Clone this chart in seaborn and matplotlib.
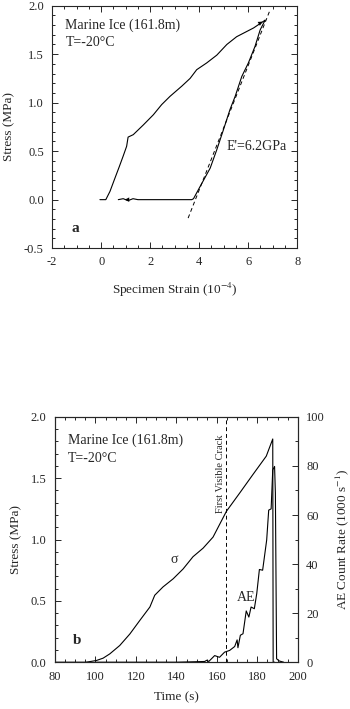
# Marine ice: stress-strain loop (a) and stress / AE count rate vs time (b)

import pandas as pd
import matplotlib
matplotlib.use('Agg')
import matplotlib.pyplot as plt
from matplotlib.ticker import MultipleLocator
import seaborn as sns

# (a) loading branch
load_strain = [-0.05, 0.19, 0.36, 0.56, 0.74, 0.90, 1.04, 1.10, 1.31, 1.72, 2.13, 2.47,
               2.81, 3.29, 3.63, 3.90, 4.31, 4.72, 5.13, 5.53, 6.22, 6.69]
load_stress = [0.0, 0.0, 0.085, 0.22, 0.34, 0.45, 0.55, 0.645, 0.67, 0.77, 0.875, 0.98,
               1.065, 1.17, 1.25, 1.34, 1.41, 1.49, 1.60, 1.68, 1.77, 1.85]
# (a) unloading branch and return at zero stress
unload_strain = [6.69, 6.49, 6.28, 6.01, 5.74, 5.47, 5.26, 4.99, 4.72, 4.45, 4.04, 3.77,
                 3.70, 2.50, 1.50, 1.30, 1.10, 0.90, 0.70]
unload_stress = [1.85, 1.75, 1.58, 1.41, 1.27, 1.065, 0.93, 0.72, 0.515, 0.325, 0.136, 0.01,
                 0.0, 0.0, 0.0, 0.01, -0.01, 0.01, 0.0]
# (a) elastic modulus fit line
fit_strain = [3.55, 6.87]
fit_stress = [-0.19, 1.94]

# (b) stress vs time
sig_time = [80, 95, 97.3, 100.5, 103.8, 107.1, 112, 117, 121.9, 126.9, 129.3, 133.4, 138.4,
            143.3, 148.2, 153.2, 158.1, 164.7, 171.3, 177.8, 184.4, 187.6, 187.8, 188.5]
sig_stress = [0.0, 0.0, 0.005, 0.014, 0.033, 0.068, 0.136, 0.23, 0.34, 0.45, 0.546, 0.614, 0.68,
              0.76, 0.86, 0.93, 1.02, 1.23, 1.38, 1.53, 1.68, 1.82, 0.0, 0.0]
# (b) AE count rate vs time (1000 s^-1)
ae_time = [100, 140, 150, 154, 155, 156, 158.9, 161.3, 163.8, 166.3, 168.8, 170, 170.4, 171.6,
           172.9, 174.5, 175.8, 176.9, 178.5, 179.7, 181, 182.6, 184.6, 185.6, 186.8, 187.6,
           188.5, 188.9, 189.5, 190.8, 193]
ae_rate = [0.0, 0.0, 0.2, 0.3, 0.8, 0.3, 2.7, 2.0, 4.1, 4.8, 6.4, 9.1, 5.9, 11.0,
           11.6, 20.9, 18.4, 22.5, 21.8, 28.0, 37.8, 37.5, 49.8, 62.0, 62.5, 78.4,
           79.8, 69.0, 1.4, 0.5, 0.0]
crack_time = 164.3

sns.set_style('ticks')
plt.rcParams['font.family'] = ['Liberation Serif', 'DejaVu Serif']
plt.rcParams['mathtext.fontset'] = 'stix'
plt.rcParams['xtick.direction'] = 'in'
plt.rcParams['ytick.direction'] = 'in'

fig = plt.figure(figsize=(3.5, 7.09), dpi=100)
ax1 = fig.add_axes([0.149, 0.650, 0.700, 0.342])
ax2 = fig.add_axes([0.157, 0.066, 0.694, 0.346])

lw = 0.8
tick_fs = 9
lab_fs = 9.5
txt_fs = 10

# ---- panel a
df_load = pd.DataFrame({'strain': load_strain, 'stress': load_stress})
df_unload = pd.DataFrame({'strain': unload_strain, 'stress': unload_stress})
sns.lineplot(data=df_load, x='strain', y='stress', sort=False, color='black', lw=lw, ax=ax1)
sns.lineplot(data=df_unload, x='strain', y='stress', sort=False, color='black', lw=lw, ax=ax1)
ax1.plot(fit_strain, fit_stress, color='black', lw=0.7, ls=(0, (4, 3)))
ax1.annotate('', xy=(load_strain[-1], load_stress[-1]), xytext=(load_strain[-3], load_stress[-3]),
             arrowprops=dict(arrowstyle='-|>', color='black', lw=0.01, mutation_scale=8))
ax1.annotate('', xy=(0.85, 0.0), xytext=(1.6, 0.0),
             arrowprops=dict(arrowstyle='-|>', color='black', lw=0.01, mutation_scale=8))

ax1.set_xlim(-2, 8)
ax1.set_ylim(-0.5, 2.0)
ax1.xaxis.set_major_locator(MultipleLocator(2))
ax1.xaxis.set_minor_locator(MultipleLocator(0.5))
ax1.yaxis.set_major_locator(MultipleLocator(0.5))
ax1.yaxis.set_minor_locator(MultipleLocator(0.1))
ax1.xaxis.set_major_formatter(plt.FuncFormatter(lambda v, p: f'{v:g}'))
ax1.yaxis.set_major_formatter(plt.FuncFormatter(lambda v, p: f'{v:.1f}'))
ax1.set_xlabel('Specimen Strain (10$^{-4}$)', fontsize=lab_fs, labelpad=9)
ax1.set_ylabel('Stress (MPa)', fontsize=lab_fs, labelpad=6)
ax1.text(-1.46, 1.80, 'Marine Ice (161.8m)', fontsize=txt_fs, va='center')
ax1.text(-1.46, 1.62, 'T=-20°C', fontsize=txt_fs, va='center')
ax1.text(5.12, 0.55, "E'=6.2GPa", fontsize=txt_fs, va='center')
ax1.text(-1.2, -0.30, 'a', fontsize=11, fontweight='bold', va='center')

# ---- panel b
df_sig = pd.DataFrame({'time': sig_time, 'stress': sig_stress})
df_ae = pd.DataFrame({'time': ae_time, 'rate': ae_rate})
sns.lineplot(data=df_sig, x='time', y='stress', sort=False, color='black', lw=lw, ax=ax2)
ax2.axvline(crack_time, color='black', lw=0.7, ls=(0, (4, 3)))
ax2r = ax2.twinx()
sns.lineplot(data=df_ae, x='time', y='rate', sort=False, color='black', lw=lw, ax=ax2r)

ax2.set_xlim(80, 200)
ax2.set_ylim(0, 2.0)
ax2r.set_ylim(0, 100)
ax2.xaxis.set_major_locator(MultipleLocator(20))
ax2.xaxis.set_minor_locator(MultipleLocator(5))
ax2.yaxis.set_major_locator(MultipleLocator(0.5))
ax2.yaxis.set_minor_locator(MultipleLocator(0.1))
ax2r.yaxis.set_major_locator(MultipleLocator(20))
ax2r.yaxis.set_minor_locator(MultipleLocator(10))
ax2.yaxis.set_major_formatter(plt.FuncFormatter(lambda v, p: f'{v:.1f}'))
ax2.set_xlabel('Time (s)', fontsize=lab_fs, labelpad=6)
ax2.set_ylabel('Stress (MPa)', fontsize=lab_fs, labelpad=6)
ax2r.set_ylabel('AE Count Rate (1000 s$^{-1}$)', fontsize=lab_fs, labelpad=6)
ax2.text(86.6, 1.81, 'Marine Ice (161.8m)', fontsize=txt_fs, va='center')
ax2.text(86.6, 1.66, 'T=-20°C', fontsize=txt_fs, va='center')
ax2.text(161.7, 1.54, 'First Visible Crack', fontsize=7.5, rotation=90, ha='center', va='center')
ax2.text(139, 0.84, 'σ', fontsize=10, ha='center', va='center')
ax2.text(174.5, 0.53, 'AE', fontsize=txt_fs, ha='center', va='center')
ax2.text(91, 0.18, 'b', fontsize=11, fontweight='bold', ha='center', va='center')

for ax in (ax1, ax2):
    ax.tick_params(which='both', top=True, right=True, labelsize=tick_fs, width=0.7, pad=6)
    ax.tick_params(which='major', length=4)
    ax.tick_params(which='minor', length=2)
    for s in ax.spines.values():
        s.set_linewidth(0.8)
ax2.tick_params(which='both', right=False)
ax2r.tick_params(which='both', direction='in', labelsize=tick_fs, width=0.7, pad=6)
ax2r.tick_params(which='major', length=4)
ax2r.tick_params(which='minor', length=2)

fig.savefig('out.png', dpi=100)
